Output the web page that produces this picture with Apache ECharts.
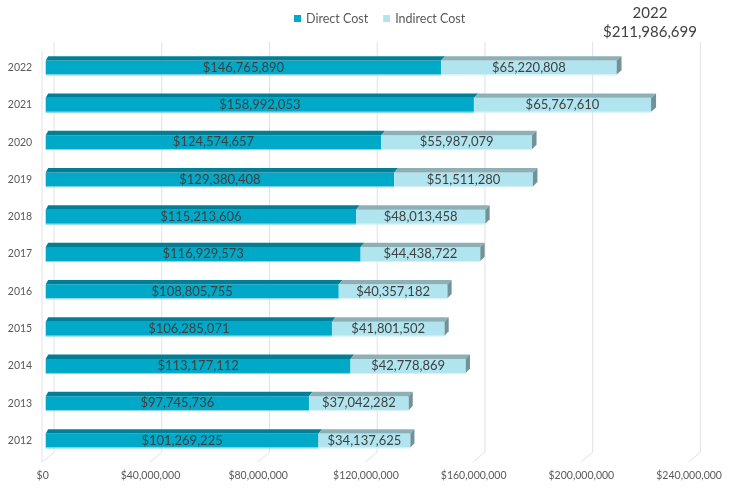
<!DOCTYPE html>
<html>
<head>
<meta charset="utf-8">
<title>Direct vs Indirect Cost</title>
<script src="https://cdn.jsdelivr.net/npm/echarts@6/dist/echarts.min.js"></script>
<style>
  html, body { margin: 0; padding: 0; background: #fff; }
  #chart { width: 734px; height: 490px; }
</style>
</head>
<body>
<div id="chart"></div>
<script>
// values, bottom row first
const years = ['2012', '2013', '2014', '2015', '2016', '2017', '2018', '2019', '2020', '2021', '2022']
const directCost = [101269225, 97745736, 113177112, 106285071, 108805755, 116929573, 115213606, 129380408, 124574657, 158992053, 146765890]
const indirectCost = [34137625, 37042282, 42778869, 41801502, 40357182, 44438722, 48013458, 51511280, 55987079, 65767610, 65220808]
const xTicks = [0, 40000000, 80000000, 120000000, 160000000, 200000000, 240000000]
const calloutYear = '2022'
const calloutTotal = 211986699

const FONT = 'Lato'
const money = v => '$' + Number(v).toLocaleString('en-US')

const BAR_H = 14    // height of the front face
const DEPTH_Y = 4.4 // top face going back
// fake perspective, the depth leans further right on the right side
const depthX = x => 2.5 + 2.5 * (x - 46) / 600

// top faces (and the end cap) for the "3d" bars
const faceData = []
years.forEach((y, i) => {
  faceData.push([i, 0, directCost[i], 0])
  faceData.push([i, directCost[i], directCost[i] + indirectCost[i], 1])
})

function renderFaces(params, api) {
  const cat = api.value(0)
  const a = api.coord([api.value(1), cat])
  const b = api.coord([api.value(2), cat])
  const kind = api.value(3)
  const yTop = a[1] - BAR_H / 2
  const yBot = a[1] + BAR_H / 2
  const ax = depthX(a[0]), bx = depthX(b[0])
  const children = [{
    type: 'polygon',
    shape: { points: [[a[0], yTop], [a[0] + ax, yTop - DEPTH_Y], [b[0] + bx, yTop - DEPTH_Y], [b[0], yTop]] },
    style: { fill: kind === 0 ? '#007F96' : '#8DB0B6' }
  }, {
    // thin light edge under the front face
    type: 'line',
    shape: { x1: a[0], y1: yBot + 0.5, x2: b[0], y2: yBot + 0.5 },
    style: { stroke: kind === 0 ? '#7FD3E3' : '#D6F1F6', lineWidth: 1 }
  }]
  if (kind === 1) {
    children.push({
      type: 'polygon',
      shape: { points: [[b[0], yTop], [b[0] + bx, yTop - DEPTH_Y], [b[0] + bx, yBot - DEPTH_Y], [b[0], yBot]] },
      style: { fill: '#6F9398' }
    })
  }
  return { type: 'group', children: children }
}

// back wall gridlines with the little floor diagonal
function renderGrid(params, api) {
  const cs = params.coordSys
  const x = api.coord([api.value(0), 0])[0]
  const top = cs.y - 7
  const backBottom = cs.y + cs.height - 7
  const front = cs.y + cs.height + 3
  const style = { stroke: '#E0E0EA', lineWidth: 1, fill: null }
  const children = [{
    type: 'polyline',
    shape: { points: [[x + 8.3, top], [x + 8.3, backBottom], [x - 3.7, front]] },
    style: style
  }]
  if (params.dataIndex === 0) {
    children.push({
      type: 'line',
      shape: { x1: x - 3.7, y1: top + 10, x2: x - 3.7, y2: front },
      style: style
    })
  }
  return { type: 'group', children: children }
}

const chart = echarts.init(document.getElementById('chart'))

chart.setOption({
  animation: false,
  textStyle: { fontFamily: FONT },
  grid: { left: 45.7, right: 41.9, top: 48.9, bottom: 30.8 },
  legend: {
    data: ['Direct Cost', 'Indirect Cost'],
    left: 289,
    top: 7,
    icon: 'rect',
    itemWidth: 7,
    itemHeight: 7,
    itemGap: 15,
    textStyle: { fontFamily: FONT, fontSize: 12.5, color: '#595959' }
  },
  graphic: [{
    type: 'text',
    x: 650,
    y: 4,
    style: {
      text: calloutYear + '\n' + money(calloutTotal),
      align: 'center',
      verticalAlign: 'top',
      lineHeight: 19,
      font: '15px ' + FONT,
      fill: '#404040'
    }
  }],
  xAxis: {
    type: 'value',
    min: 0,
    max: 240000000,
    interval: 40000000,
    axisLine: { show: false },
    axisTick: { show: false },
    splitLine: { show: false },
    axisLabel: {
      margin: 11,
      padding: [0, 6, 0, 0],
      fontSize: 10.5,
      color: '#595959',
      formatter: v => money(v)
    }
  },
  yAxis: {
    type: 'category',
    data: years,
    axisLine: { show: false },
    axisTick: { show: false },
    axisLabel: { margin: 13.5, padding: [6, 0, 0, 0], fontSize: 10.5, color: '#595959' }
  },
  series: [
    {
      type: 'custom',
      renderItem: renderGrid,
      data: xTicks.map(v => [v]),
      encode: { x: 0 },
      silent: true,
      z: 1
    },
    {
      name: 'Direct Cost',
      type: 'bar',
      stack: 'cost',
      barWidth: BAR_H,
      data: directCost,
      itemStyle: { color: '#00A9C8' },
      label: {
        show: true,
        position: 'inside',
        color: '#404040',
        fontFamily: FONT,
        fontSize: 13,
        formatter: p => money(p.value)
      },
      z: 2
    },
    {
      name: 'Indirect Cost',
      type: 'bar',
      stack: 'cost',
      barWidth: BAR_H,
      data: indirectCost,
      itemStyle: { color: '#B0E4EE' },
      label: {
        show: true,
        position: 'inside',
        color: '#404040',
        fontFamily: FONT,
        fontSize: 13,
        formatter: p => money(p.value)
      },
      z: 2
    },
    {
      type: 'custom',
      renderItem: renderFaces,
      data: faceData,
      encode: { x: [1, 2], y: 0 },
      silent: true,
      z: 3
    }
  ]
})
</script>
</body>
</html>
